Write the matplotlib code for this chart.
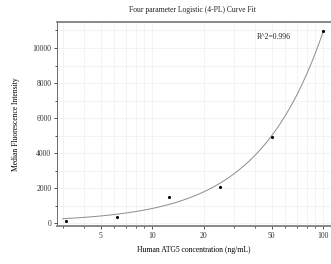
import numpy as np
import matplotlib.pyplot as plt
from matplotlib.ticker import MultipleLocator, LogLocator, FixedLocator, NullFormatter

# measured points
conc = [3.125, 6.25, 12.5, 25, 50, 100]
mfi = [160, 340, 1520, 2100, 4930, 10960]

# 4-PL fit parameters (bottom, slope, ec50, top)
fit_a = 70
fit_b = 1.15
fit_c = 5050
fit_d = 1000000
r2_text = "R^2=0.996"

plt.rcParams["font.family"] = ["Liberation Serif", "DejaVu Serif"]

fig = plt.figure(figsize=(3.31, 2.64), dpi=100)
ax = fig.add_axes([57 / 331, 1 - 226 / 264, 1.0 - 57 / 331, (226 - 22) / 264])

xx = np.logspace(np.log10(3.0), np.log10(100), 200)
yy = fit_d + (fit_a - fit_d) / (1 + (xx / fit_c) ** fit_b)
ax.plot(xx, yy, color="#8c8c8c", lw=0.7, zorder=2)
ax.scatter(conc, mfi, s=5, color="black", zorder=3, linewidths=0)

ax.set_xscale("log")
ax.set_xlim(2.78, 111)
ax.set_ylim(-150, 11480)
ax.xaxis.set_major_locator(FixedLocator([5, 10, 20, 50, 100]))
ax.xaxis.set_minor_locator(LogLocator(base=10, subs=np.arange(1, 10)))
ax.xaxis.set_major_formatter(plt.FixedFormatter(["5", "10", "20", "50", "100"]))
ax.xaxis.set_minor_formatter(NullFormatter())
ax.yaxis.set_major_locator(MultipleLocator(2000))
ax.yaxis.set_minor_locator(MultipleLocator(1000))

ax.grid(True, which="both", color="#efefef", lw=0.5, zorder=0)
ax.set_axisbelow(True)

ax.tick_params(axis="both", which="both", labelsize=5.5, colors="#333333",
               length=2, width=0.6, pad=2)
ax.tick_params(axis="both", which="minor", length=1.5)

for side in ["top", "bottom"]:
    ax.spines[side].set_color("#7f7f7f")
    ax.spines[side].set_linewidth(1.3)
ax.spines["left"].set_color("#555555")
ax.spines["left"].set_linewidth(0.6)
ax.spines["right"].set_visible(False)

ax.text(0.73, 0.915, r2_text, transform=ax.transAxes, fontsize=5.5, color="#222222")

ax.set_xlabel("Human ATG5 concentration (ng/mL)", fontsize=5.5, labelpad=5)
ax.set_ylabel("Median Fluorescence Intensity", fontsize=5.5, labelpad=9)
fig.text(192 / 331, 1 - 10 / 264, "Four parameter Logistic (4-PL) Curve Fit",
         ha="center", va="center", fontsize=5.5, color="#222222")

fig.savefig("out.png", dpi=100)
